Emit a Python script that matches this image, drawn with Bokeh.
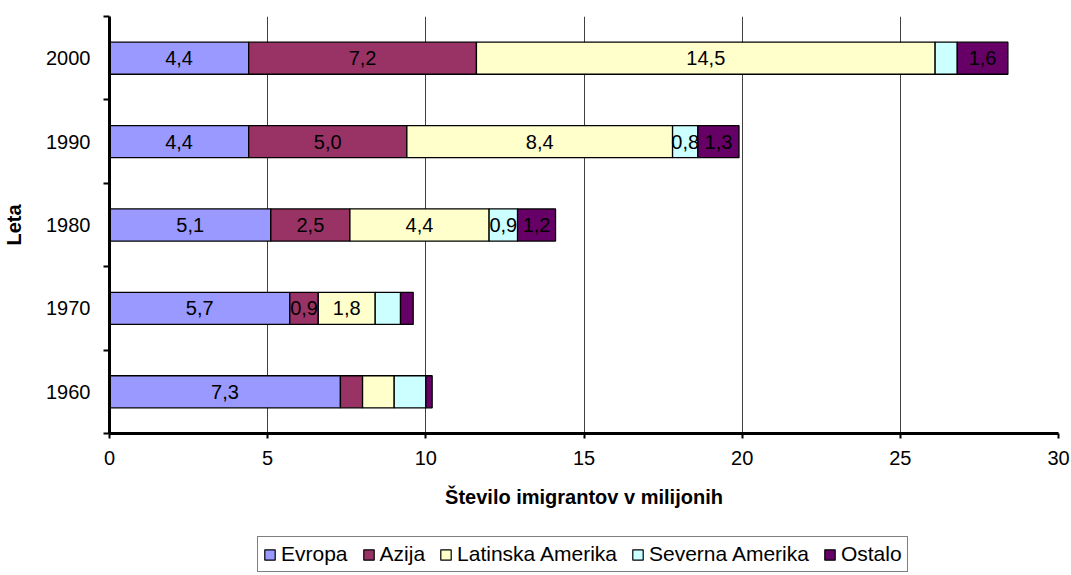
import numpy as np
from bokeh.plotting import figure
from bokeh.layouts import column
from bokeh.models import ColumnDataSource, FixedTicker, Legend
from bokeh.core.properties import value
from bokeh.embed import file_html
from bokeh.resources import INLINE

years = ["1960", "1970", "1980", "1990", "2000"]
series = ["Evropa", "Azija", "Latinska Amerika", "Severna Amerika", "Ostalo"]
evropa = [7.3, 5.7, 5.1, 4.4, 4.4]
azija = [0.7, 0.9, 2.5, 5.0, 7.2]
latinska = [1.0, 1.8, 4.4, 8.4, 14.5]
severna = [1.0, 0.8, 0.9, 0.8, 0.7]
ostalo = [0.2, 0.4, 1.2, 1.3, 1.6]
colors = ["#9999FF", "#993366", "#FFFFCC", "#CCFFFF", "#660066"]
x_ticks = [0, 5, 10, 15, 20, 25, 30]
# labels that the reference chart does not show (series, year)
hidden_labels = [("Azija", "1960"), ("Latinska Amerika", "1960"), ("Severna Amerika", "1960"),
                 ("Ostalo", "1960"), ("Severna Amerika", "1970"), ("Ostalo", "1970"),
                 ("Severna Amerika", "2000")]

FONT = "Liberation Sans"
FS = "20px"
values = [evropa, azija, latinska, severna, ostalo]
ypos = [i + 0.5 for i in range(len(years))]

data = {"y": ypos}
for name, vals in zip(series, values):
    data[name] = vals
source = ColumnDataSource(data)

p = figure(width=1071, height=535, output_backend="svg", toolbar_location=None,
           x_range=(0, 30), y_range=(0, len(years)),
           min_border_left=105, min_border_right=13, min_border_top=16, min_border_bottom=102)
p.outline_line_color = None
p.background_fill_color = "white"

renderers = p.hbar_stack(series, y="y", height=0.385, color=colors, line_color="black",
                         line_width=1.3, source=source)

# bar value labels
lx, ly, lt = [], [], []
cum = np.zeros(len(years))
for name, vals in zip(series, values):
    v = np.array(vals)
    centers = cum + v / 2
    for j, yr in enumerate(years):
        if (name, yr) not in hidden_labels:
            lx.append(centers[j])
            ly.append(ypos[j])
            lt.append(f"{vals[j]:.1f}".replace(".", ","))
    cum = cum + v
lsrc = ColumnDataSource(dict(x=lx, y=ly, t=lt))
p.text(x="x", y="y", text="t", source=lsrc, text_font=value(FONT), text_font_size=FS,
       text_align="center", text_baseline="middle", text_color="black")

# x axis
p.xaxis.ticker = FixedTicker(ticks=x_ticks)
p.xaxis.axis_line_width = 3
p.xaxis.axis_line_color = "black"
p.xaxis.major_tick_line_width = 2
p.xaxis.major_tick_in = 0
p.xaxis.major_tick_out = 5
p.xaxis.minor_tick_line_color = None
p.xaxis.major_label_text_font = FONT
p.xaxis.major_label_text_font_size = FS
p.xaxis.major_label_text_color = "black"
p.xaxis.major_label_standoff = 12
p.xaxis.axis_label = "Število imigrantov v milijonih"
p.xaxis.axis_label_text_font = FONT
p.xaxis.axis_label_text_font_size = FS
p.xaxis.axis_label_text_font_style = "bold"
p.xaxis.axis_label_text_color = "black"
p.xaxis.axis_label_standoff = 18

# y axis
p.yaxis.ticker = FixedTicker(ticks=ypos, minor_ticks=list(range(len(years) + 1)))
p.yaxis.major_label_overrides = {y: yr for y, yr in zip(ypos, years)}
p.yaxis.axis_line_width = 3
p.yaxis.axis_line_color = "black"
p.yaxis.major_tick_line_color = None
p.yaxis.major_tick_in = 0
p.yaxis.major_tick_out = 0
p.yaxis.minor_tick_line_color = "black"
p.yaxis.minor_tick_line_width = 2
p.yaxis.minor_tick_in = 0
p.yaxis.minor_tick_out = 6
p.yaxis.major_label_text_font = FONT
p.yaxis.major_label_text_font_size = FS
p.yaxis.major_label_text_color = "black"
p.yaxis.major_label_standoff = 13
p.yaxis.axis_label = "Leta"
p.yaxis.axis_label_text_font = FONT
p.yaxis.axis_label_text_font_size = FS
p.yaxis.axis_label_text_font_style = "bold"
p.yaxis.axis_label_text_color = "black"
p.yaxis.axis_label_standoff = 18

p.xgrid.ticker = FixedTicker(ticks=x_ticks)
p.xgrid.grid_line_color = "#404040"
p.xgrid.grid_line_width = 1
p.ygrid.grid_line_color = None

# legend strip below the chart (proxy bars lie outside the strip's visible range)
pl = figure(width=1071, height=40, output_backend="svg", toolbar_location=None,
            x_axis_type=None, y_axis_type=None, x_range=(0, 1), y_range=(0, 1),
            min_border=0)
pl.outline_line_color = None
pl.grid.visible = False
proxies = []
for name, c in zip(series, colors):
    r = pl.hbar(y=[-10], left=[0], right=[1], height=1, fill_color=c,
                line_color="black", line_width=1.2)
    proxies.append((name, [r]))
legend = Legend(items=proxies, orientation="horizontal", location=(148, 3),
                border_line_color="black", border_line_width=1,
                background_fill_color="white", background_fill_alpha=1,
                label_text_font=FONT, label_text_font_size="21px", label_text_color="black",
                glyph_width=13, glyph_height=13, label_standoff=5, spacing=14,
                padding=5, margin=0, label_height=20)
pl.add_layout(legend, "center")

open("out.html", "w").write(file_html(column(p, pl), INLINE))
